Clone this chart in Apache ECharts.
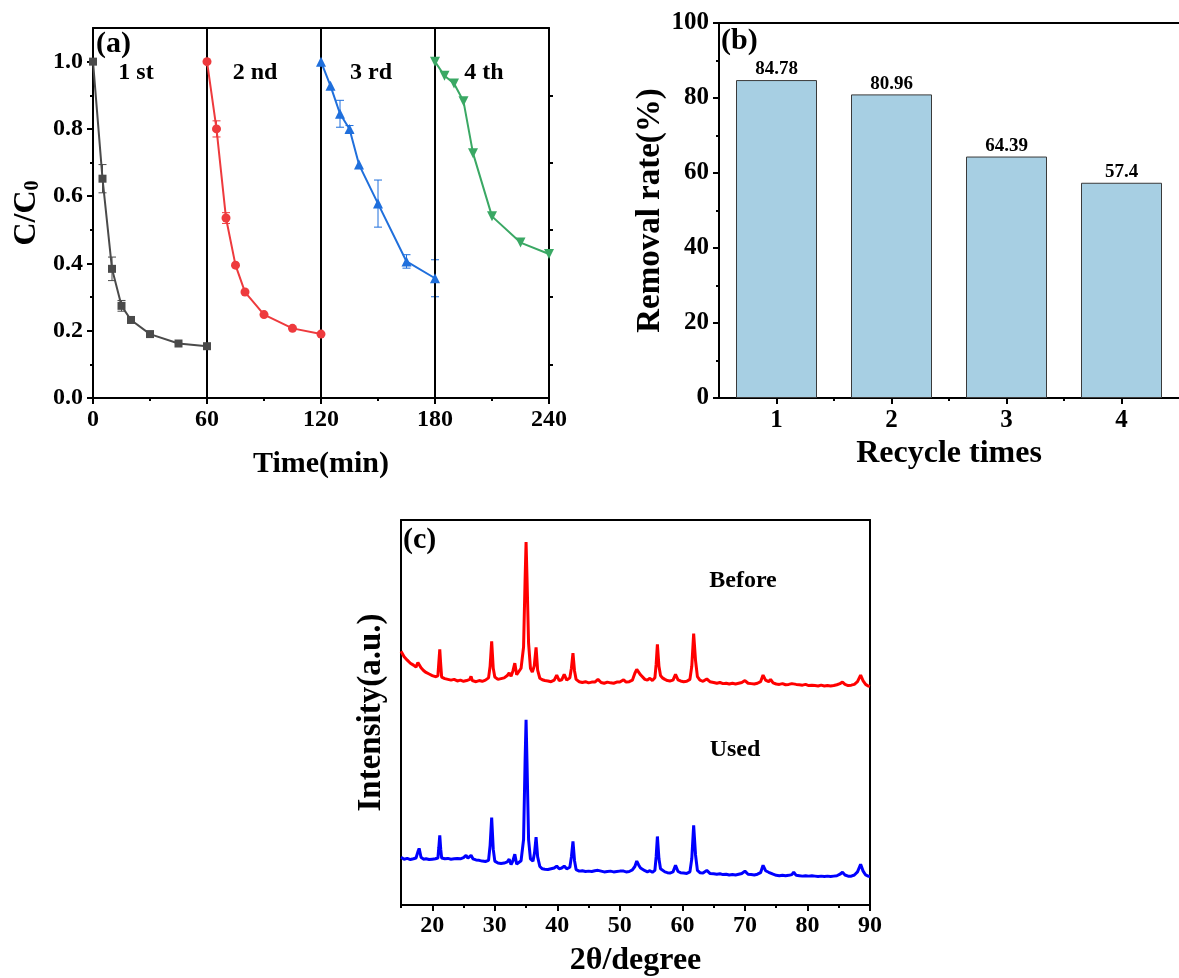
<!DOCTYPE html>
<html>
<head>
<meta charset="utf-8">
<script src="https://cdn.jsdelivr.net/npm/echarts@6/dist/echarts.min.js"></script>
<style>
  html, body { margin: 0; padding: 0; background: #ffffff; }
  #chart { width: 1179px; height: 978px; }
</style>
</head>
<body>
<div id="chart"></div>
<script>
// ---------- (a) cycling runs: C/C0 against time ----------
const run1Time  = [0, 5, 10, 15, 20, 30, 45, 60];
const run1Ratio = [1.0, 0.652, 0.384, 0.274, 0.232, 0.19, 0.162, 0.154];
const run1Err   = [0, 0.042, 0.035, 0.016, 0.008, 0, 0, 0];

const run2Time  = [60, 65, 70, 75, 80, 90, 105, 120];
const run2Ratio = [1.0, 0.80, 0.535, 0.395, 0.315, 0.248, 0.207, 0.19];
const run2Err   = [0, 0.024, 0.016, 0, 0, 0, 0, 0];

const run3Time  = [120, 125, 130, 135, 140, 150, 165, 180];
const run3Ratio = [1.0, 0.928, 0.845, 0.80, 0.694, 0.578, 0.406, 0.356];
const run3Err   = [0, 0, 0.04, 0.01, 0, 0.07, 0.02, 0.055];

const run4Time  = [180, 185, 190, 195, 200, 210, 225, 240];
const run4Ratio = [1.0, 0.958, 0.935, 0.882, 0.728, 0.54, 0.462, 0.428];

const runLabels   = ['1 st', '2 nd', '3 rd', '4 th'];
const runDividers = [60, 120, 180];

const timeTicks  = [0, 60, 120, 180, 240];
const timeMinor  = [30, 90, 150, 210];
const ratioTicks = [0, 0.2, 0.4, 0.6, 0.8, 1.0];
const ratioMinor = [0.1, 0.3, 0.5, 0.7, 0.9];

// ---------- (b) removal rate per recycle ----------
const recycleTimes = [1, 2, 3, 4];
const removalRate  = [84.78, 80.96, 64.39, 57.4];
const rateTicks    = [0, 20, 40, 60, 80, 100];
const rateMinor    = [10, 30, 50, 70, 90];
const recycleMinor = [1.5, 2.5, 3.5];

// ---------- (c) XRD patterns, [2θ, intensity (a.u.)] ----------
const xrdBefore = [
  [15.0,65.9],[15.5,64.5],[16.0,63.6],[16.5,62.8],[17.0,62.3],[17.4,61.8],[17.7,63.0],[17.9,63.4],[18.2,61.6],
  [18.6,60.9],[19.0,60.4],[19.5,60.0],[20.0,59.6],[20.5,59.3],[20.9,59.5],[21.05,63.0],[21.2,66.4],[21.35,62.5],
  [21.5,59.2],[22.0,58.8],[22.5,58.6],[23.0,58.4],[23.5,58.6],[24.0,58.2],[24.5,58.4],[25.0,58.1],[25.5,58.3],
  [26.0,58.6],[26.2,59.4],[26.4,58.3],[27.0,58.0],[27.5,58.3],[28.0,58.1],[28.5,58.4],[29.0,59.0],[29.25,62.0],
  [29.5,68.5],[29.75,61.5],[30.0,59.2],[30.5,58.6],[31.0,58.8],[31.5,59.0],[32.0,59.6],[32.3,60.3],[32.6,59.4],
  [32.9,60.8],[33.2,62.8],[33.5,59.8],[33.8,60.2],[34.2,61.5],[34.6,67.0],[34.85,85.0],[35.0,94.3],[35.15,85.0],
  [35.4,68.0],[35.7,61.5],[36.0,60.5],[36.3,62.0],[36.6,66.9],[36.85,61.0],[37.2,58.9],[37.6,58.5],[38.0,58.3],
  [38.5,58.2],[39.0,58.0],[39.5,58.4],[39.9,59.7],[40.3,58.3],[40.7,58.5],[41.1,59.9],[41.5,58.4],[42.0,59.0],
  [42.25,61.5],[42.5,65.4],[42.75,60.8],[43.0,58.6],[43.5,58.0],[44.0,57.8],[44.5,58.0],[45.0,57.7],[45.5,57.9],
  [46.0,57.9],[46.5,58.6],[47.0,57.8],[47.5,57.6],[48.0,57.9],[48.5,57.7],[49.0,57.6],[49.5,57.9],[50.0,57.9],
  [50.6,58.5],[51.0,57.9],[51.5,58.0],[52.0,58.4],[52.4,60.2],[52.7,61.2],[53.0,60.5],[53.3,59.8],[53.6,59.9],
  [54.0,58.6],[54.4,58.4],[54.8,58.9],[55.2,58.3],[55.6,59.0],[55.8,62.5],[56.0,67.7],[56.25,62.0],[56.5,59.6],
  [56.8,59.0],[57.2,58.6],[57.6,58.3],[58.0,58.2],[58.5,58.4],[58.9,59.9],[59.3,58.5],[59.7,58.2],[60.2,58.0],
  [60.7,58.1],[61.2,58.6],[61.5,62.0],[61.8,70.5],[62.1,63.5],[62.4,59.3],[62.8,58.4],[63.3,58.1],[63.9,58.7],
  [64.4,58.0],[65.0,57.8],[65.5,57.6],[66.0,57.8],[66.5,57.5],[67.0,57.6],[67.5,57.4],[68.0,57.6],[68.5,57.4],
  [69.0,57.6],[69.5,57.8],[70.0,58.3],[70.5,57.6],[71.0,57.5],[71.5,57.4],[72.0,57.6],[72.5,58.0],[72.9,59.7],
  [73.3,58.4],[73.8,58.0],[74.1,58.6],[74.5,57.7],[75.0,57.4],[75.5,57.3],[76.0,57.5],[76.5,57.2],[77.0,57.3],
  [77.5,57.5],[77.8,57.9],[78.2,57.3],[78.7,57.2],[79.2,57.1],[79.7,57.3],[80.2,57.0],[80.7,57.1],[81.2,57.0],
  [81.7,56.9],[82.2,57.1],[82.7,56.9],[83.2,57.0],[83.7,56.9],[84.2,57.0],[84.7,57.2],[85.2,57.5],[85.6,57.9],
  [86.0,57.3],[86.5,57.0],[87.0,57.1],[87.5,57.3],[88.0,58.0],[88.5,59.7],[88.9,58.2],[89.3,57.3],[89.7,56.9],
  [90.0,56.8]
];
const xrdUsed = [
  [15.0,12.4],[15.5,11.9],[16.0,12.1],[16.5,11.8],[17.0,12.0],[17.4,12.2],[17.7,13.8],[17.9,14.7],[18.2,12.4],
  [18.6,11.9],[19.0,12.0],[19.5,11.8],[20.0,11.9],[20.5,12.0],[20.9,12.2],[21.05,15.0],[21.2,18.1],[21.35,14.5],
  [21.5,12.2],[22.0,12.0],[22.5,12.1],[23.0,11.9],[23.5,12.0],[24.0,12.1],[24.5,12.0],[25.0,12.3],[25.4,12.9],
  [25.7,12.2],[26.2,12.9],[26.5,12.0],[27.0,11.7],[27.5,11.6],[28.0,11.4],[28.5,11.3],[29.0,11.6],[29.25,15.5],
  [29.5,22.7],[29.75,14.5],[30.0,11.4],[30.5,10.9],[31.0,10.8],[31.5,10.9],[32.0,11.2],[32.3,11.9],[32.6,10.5],
  [32.9,11.5],[33.2,13.2],[33.5,10.6],[33.8,10.3],[34.2,11.5],[34.6,17.0],[34.85,38.0],[35.0,48.1],[35.15,37.0],
  [35.4,17.0],[35.7,12.0],[36.1,11.4],[36.35,13.5],[36.6,17.6],[36.85,12.5],[37.2,10.0],[37.6,9.4],[38.0,9.3],
  [38.5,9.2],[39.0,9.4],[39.5,9.6],[39.9,10.1],[40.3,9.4],[40.7,9.6],[41.1,10.1],[41.5,9.4],[42.0,9.8],
  [42.25,12.5],[42.5,16.5],[42.75,11.5],[43.0,9.2],[43.5,8.8],[44.0,8.9],[44.5,8.7],[45.0,8.8],[45.5,8.7],
  [46.0,8.9],[46.5,9.0],[47.0,8.8],[47.5,8.6],[48.0,8.7],[48.5,8.8],[49.0,8.6],[49.5,8.7],[50.0,8.8],
  [50.6,8.8],[51.0,8.6],[51.5,8.7],[52.0,9.1],[52.4,10.0],[52.7,11.4],[53.0,10.4],[53.3,9.6],[53.6,9.8],
  [54.0,8.9],[54.4,8.6],[54.8,8.9],[55.2,8.5],[55.6,9.0],[55.8,12.5],[56.0,17.8],[56.25,12.0],[56.5,9.4],
  [56.8,8.9],[57.2,8.6],[57.6,8.4],[58.0,8.3],[58.5,8.6],[58.9,10.3],[59.3,8.7],[59.7,8.4],[60.2,8.3],
  [60.7,8.2],[61.2,8.6],[61.5,12.0],[61.8,20.7],[62.1,13.0],[62.4,9.0],[62.8,8.4],[63.3,8.3],[63.9,9.0],
  [64.4,8.2],[65.0,8.1],[65.5,8.0],[66.0,8.1],[66.5,7.9],[67.0,8.0],[67.5,7.8],[68.0,7.9],[68.5,7.8],
  [69.0,8.0],[69.5,8.2],[70.0,8.8],[70.5,8.0],[71.0,7.9],[71.5,7.8],[72.0,8.0],[72.5,8.4],[72.9,10.3],
  [73.3,8.9],[73.8,8.5],[74.1,9.0],[74.5,8.0],[75.0,7.7],[75.5,7.6],[76.0,7.7],[76.5,7.6],[77.0,7.7],
  [77.5,7.9],[77.8,8.5],[78.2,7.7],[78.7,7.6],[79.2,7.5],[79.7,7.6],[80.2,7.5],[80.7,7.6],[81.2,7.5],
  [81.7,7.4],[82.2,7.5],[82.7,7.4],[83.2,7.5],[83.7,7.4],[84.2,7.5],[84.7,7.6],[85.2,8.0],[85.6,8.5],
  [86.0,7.8],[86.5,7.5],[87.0,7.5],[87.5,7.8],[88.0,8.6],[88.5,10.6],[88.9,8.8],[89.3,7.8],[89.7,7.5],
  [90.0,7.5]
];
const twoThetaTicks = [20, 30, 40, 50, 60, 70, 80, 90];
const twoThetaMinor = [15, 25, 35, 45, 55, 65, 75, 85];

// ---------- shared styling ----------
const FONT = 'Liberation Serif';
const INK = '#000000';
function bold(size) { return { fontFamily: FONT, fontWeight: 'bold', fontSize: size, color: INK }; }

function frameLine(show) {
  return { show: show, onZero: false, lineStyle: { color: INK, width: 2 } };
}

// main axis: line, outward major ticks and labels at the listed values
function mainAxis(extra, ticks, labelMargin, labelSize) {
  return Object.assign({
    type: 'value',
    axisLine: frameLine(true),
    axisTick: { show: true, length: 6, customValues: ticks, lineStyle: { color: INK, width: 2 } },
    axisLabel: { show: true, customValues: ticks, margin: labelMargin, ...bold(labelSize) },
    splitLine: { show: false }
  }, extra);
}
// overlay axis carrying only the short minor ticks
function minorAxis(extra, ticks) {
  return Object.assign({
    type: 'value',
    axisLine: frameLine(false),
    axisTick: { show: true, length: 3, customValues: ticks, lineStyle: { color: INK, width: 2 } },
    axisLabel: { show: false },
    splitLine: { show: false }
  }, extra);
}
// bare frame edge
function edgeAxis(extra) {
  return Object.assign({
    type: 'value',
    axisLine: frameLine(true),
    axisTick: { show: false },
    axisLabel: { show: false },
    splitLine: { show: false }
  }, extra);
}

function pairs(xs, ys) { return xs.map((x, i) => [x, ys[i]]); }
function errRows(xs, ys, es) {
  return xs.map((x, i) => [x, ys[i] - es[i], ys[i] + es[i]]).filter((r, i) => es[i] > 0);
}

function errorBarItem(params, api) {
  const x = api.value(0);
  const hi = api.coord([x, api.value(2)]);
  const lo = api.coord([x, api.value(1)]);
  const cap = 4;
  const style = { stroke: api.visual('color'), lineWidth: 1 };
  return {
    type: 'group',
    children: [
      { type: 'line', shape: { x1: hi[0], y1: hi[1], x2: lo[0], y2: lo[1] }, style },
      { type: 'line', shape: { x1: hi[0] - cap, y1: hi[1], x2: hi[0] + cap, y2: hi[1] }, style },
      { type: 'line', shape: { x1: lo[0] - cap, y1: lo[1], x2: lo[0] + cap, y2: lo[1] }, style }
    ]
  };
}

const runColors  = ['#4a4a4a', '#ee3a3d', '#1f6fdc', '#3aa864'];
const runSymbols = ['rect', 'circle', 'triangle', 'path://M0,0 L10,0 L5,9 Z'];
const runSizes   = [8, 9, 10, 10];
const runTimes   = [run1Time, run2Time, run3Time, run4Time];
const runRatios  = [run1Ratio, run2Ratio, run3Ratio, run4Ratio];
const runErrs    = [run1Err, run2Err, run3Err, null];

const series = [];
runTimes.forEach((t, k) => {
  const s = {
    type: 'line',
    xAxisIndex: 0, yAxisIndex: 0,
    data: pairs(t, runRatios[k]),
    symbol: runSymbols[k],
    symbolSize: runSizes[k],
    lineStyle: { color: runColors[k], width: 2 },
    itemStyle: { color: runColors[k] },
    z: 5
  };
  if (k === 0) {
    s.markLine = {
      silent: true,
      symbol: ['none', 'none'],
      label: { show: false },
      lineStyle: { color: INK, width: 2, type: 'solid' },
      data: runDividers.map(v => ({ xAxis: v }))
    };
  }
  series.push(s);
  if (runErrs[k]) {
    series.push({
      type: 'custom',
      xAxisIndex: 0, yAxisIndex: 0,
      renderItem: errorBarItem,
      itemStyle: { color: runColors[k] },
      data: errRows(t, runRatios[k], runErrs[k]),
      z: 4
    });
  }
});

series.push({
  type: 'bar',
  xAxisIndex: 3, yAxisIndex: 3,
  data: pairs(recycleTimes, removalRate),
  barWidth: 81,
  itemStyle: { color: '#a7cfe3', borderColor: '#3a3a3a', borderWidth: 1 },
  label: {
    show: true, position: 'top', distance: 1,
    formatter: p => String(p.value[1]),
    ...bold(19)
  }
});

series.push({
  type: 'line', xAxisIndex: 6, yAxisIndex: 5,
  data: xrdBefore, showSymbol: false, symbol: 'none',
  lineStyle: { color: '#ff0000', width: 3 }
});
series.push({
  type: 'line', xAxisIndex: 6, yAxisIndex: 5,
  data: xrdUsed, showSymbol: false, symbol: 'none',
  lineStyle: { color: '#0000ff', width: 3 }
});

const textStyleBase = { fontFamily: FONT, fontWeight: 'bold', fill: INK };
function label(text, x, y, size) {
  return {
    type: 'text', left: x, top: y, silent: true,
    style: Object.assign({ text: text, fontSize: size }, textStyleBase)
  };
}
function centered(text, cx, cy, size) {
  return {
    type: 'text', x: cx, y: cy, silent: true,
    style: Object.assign({ text: text, fontSize: size, textAlign: 'center', textVerticalAlign: 'middle' }, textStyleBase)
  };
}

const runLabelX = [136, 255, 371, 484];

const option = {
  backgroundColor: '#ffffff',
  animation: false,
  grid: [
    { left: 93,  top: 28,  width: 456, height: 370, containLabel: false },
    { left: 719, top: 23,  width: 464, height: 375, containLabel: false },
    { left: 401, top: 520, width: 469, height: 387, containLabel: false }
  ],
  xAxis: [
    mainAxis({ gridIndex: 0, position: 'bottom', min: 0, max: 240,
      name: 'Time(min)', nameLocation: 'middle', nameGap: 51, nameTextStyle: bold(30) }, timeTicks, 10, 24),
    minorAxis({ gridIndex: 0, position: 'bottom', min: 0, max: 240 }, timeMinor),
    edgeAxis({ gridIndex: 0, position: 'top', min: 0, max: 240 }),

    mainAxis({ gridIndex: 1, position: 'bottom', min: 0.5, max: 4.5,
      name: 'Recycle times', nameLocation: 'middle', nameGap: 40, nameTextStyle: bold(32) }, recycleTimes, 10, 25),
    minorAxis({ gridIndex: 1, position: 'bottom', min: 0.5, max: 4.5 }, recycleMinor),
    edgeAxis({ gridIndex: 1, position: 'top', min: 0.5, max: 4.5 }),

    mainAxis({ gridIndex: 2, position: 'bottom', min: 15, max: 90,
      name: '2θ/degree', nameLocation: 'middle', nameGap: 40, nameTextStyle: bold(32) }, twoThetaTicks, 9, 24),
    minorAxis({ gridIndex: 2, position: 'bottom', min: 15, max: 90 }, twoThetaMinor),
    edgeAxis({ gridIndex: 2, position: 'top', min: 15, max: 90 })
  ],
  yAxis: [
    mainAxis({ gridIndex: 0, position: 'left', min: 0, max: 1.1,
      name: '{m|C/C}{s|0}', nameLocation: 'middle', nameGap: 50,
      nameTextStyle: { rich: {
        m: bold(32),
        s: Object.assign(bold(20), { verticalAlign: 'bottom', padding: [13, 0, 0, 0] })
      } },
      axisLabel: { show: true, customValues: ratioTicks, margin: 10, formatter: v => v.toFixed(1), ...bold(24) } }, ratioTicks, 10, 24),
    minorAxis({ gridIndex: 0, position: 'left', min: 0, max: 1.1 }, ratioMinor),
    minorAxis({ gridIndex: 0, position: 'right', min: 0, max: 1.1,
      axisLine: frameLine(true),
      axisTick: { show: true, length: 4, customValues: ratioMinor, lineStyle: { color: INK, width: 2 } } }, ratioMinor),

    mainAxis({ gridIndex: 1, position: 'left', min: 0, max: 100,
      name: 'Removal rate(%)', nameLocation: 'middle', nameGap: 52, nameTextStyle: bold(33) }, rateTicks, 10, 25),
    minorAxis({ gridIndex: 1, position: 'left', min: 0, max: 100 }, rateMinor),

    edgeAxis({ gridIndex: 2, position: 'left', min: 0, max: 100,
      name: 'Intensity(a.u.)', nameLocation: 'middle', nameGap: 13, nameTextStyle: bold(33) }),
    edgeAxis({ gridIndex: 2, position: 'right', min: 0, max: 100 })
  ],
  graphic: [
    label('(a)', 96, 29, 30),
    ...runLabels.map((t, i) => centered(t, runLabelX[i], 73, 24)),
    label('(b)', 721, 26, 30),
    label('(c)', 403, 525, 30),
    centered('Before', 743, 581, 24),
    centered('Used', 735, 750, 24)
  ],
  series: series
};

const chart = echarts.init(document.getElementById('chart'), null, { renderer: 'canvas' });
chart.setOption(option);
</script>
</body>
</html>
